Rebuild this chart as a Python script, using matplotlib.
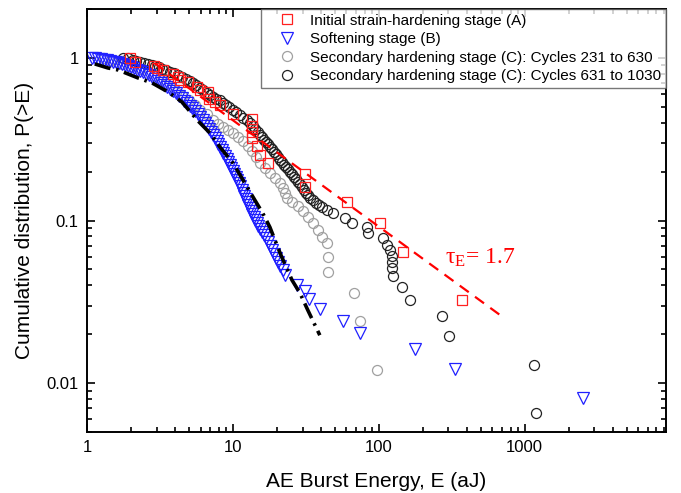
"""Cumulative distribution of AE burst energy for the three loading stages."""

import matplotlib

matplotlib.use("Agg")

import matplotlib.pyplot as plt
from matplotlib.ticker import FixedLocator, FixedFormatter, LogLocator, NullFormatter

plt.rcParams["font.family"] = ["Liberation Sans", "DejaVu Sans"]
plt.rcParams["mathtext.fontset"] = "stix"

# Initial strain-hardening stage (A)
stage_a_energy = [1.97, 2.13, 2.88, 3.02, 3.32, 3.88, 4.20, 4.33, 4.92, 5.67, 5.94, 6.74,
                  6.85, 7.53, 8.15, 10.0, 13.5, 13.5, 13.5, 13.5, 14.6, 15.3, 17.4, 31.1,
                  31.1, 60.4, 101.6, 146, 370]
stage_a_prob = [1.0, 0.945, 0.893, 0.868, 0.844, 0.797, 0.764, 0.732, 0.711, 0.663, 0.636,
                0.618, 0.560, 0.536, 0.514, 0.452, 0.421, 0.382, 0.351, 0.322, 0.287, 0.253,
                0.226, 0.193, 0.161, 0.130, 0.0966, 0.064, 0.0324]

# Softening stage (B)
stage_b_energy = [1.082, 1.134, 1.190, 1.247, 1.307, 1.371, 1.437, 1.507, 1.580, 1.657,
                  1.737, 1.821, 1.909, 2.001, 2.098, 2.200, 2.307, 2.419, 2.536, 2.659,
                  2.788, 2.923, 3.064, 3.213, 3.369, 3.532, 3.703, 3.882, 4.070, 4.267,
                  4.474, 4.618, 4.842, 5.077, 5.240, 5.493, 5.759, 5.943, 6.231, 6.431,
                  6.637, 6.850, 7.069, 7.295, 7.529, 7.770, 7.894, 8.147, 8.408, 8.541,
                  8.814, 9.097, 9.243, 9.539, 9.690, 10.0, 10.16, 10.48, 10.65, 10.99,
                  11.17, 11.52, 11.71, 11.89, 12.27, 12.47, 12.67, 13.07, 13.28, 13.49,
                  13.93, 14.15, 14.60, 14.84, 15.31, 15.80, 16.31, 16.83, 17.37, 17.92,
                  18.50, 19.09, 19.70, 20.33, 20.98, 22.00, 22.71,
                  27.4, 31.1, 33.2, 39.4, 56.7, 74.1, 176, 332, 2497]
stage_b_prob = [1.0, 0.9929, 0.9859, 0.9790, 0.9721, 0.9652, 0.9584, 0.9489, 0.9382, 0.9277,
                0.9120, 0.8992, 0.8865, 0.8740, 0.8617, 0.8436, 0.8318, 0.8143, 0.7972,
                0.7804, 0.7640, 0.7427, 0.7219, 0.7017, 0.6821, 0.6630, 0.6445, 0.6264,
                0.6046, 0.5836, 0.5632, 0.5437, 0.5248, 0.5065, 0.4889, 0.4719, 0.4520,
                0.4332, 0.4152, 0.3981, 0.3815, 0.3656, 0.3504, 0.3358, 0.3218, 0.3084,
                0.2956, 0.2833, 0.2715, 0.2602, 0.2493, 0.2390, 0.2291, 0.2195, 0.2104,
                0.2016, 0.1932, 0.1852, 0.1775, 0.1701, 0.1630, 0.1540, 0.1476, 0.1415,
                0.1356, 0.1299, 0.1245, 0.1193, 0.1144, 0.1096, 0.1051, 0.1007, 0.0965,
                0.0925, 0.0886, 0.0849, 0.0814, 0.0780, 0.0737, 0.0697, 0.0658, 0.0622,
                0.0588, 0.0555, 0.0525, 0.0496, 0.0462,
                0.0401, 0.0368, 0.0329, 0.0285, 0.0241, 0.0203, 0.0162, 0.0122, 0.0081]

# Secondary hardening stage (C): cycles 231 to 630
stage_c1_energy = [1.3, 1.45, 1.6, 1.75, 2.0, 2.3, 2.6, 2.9, 3.2, 3.5, 3.8, 4.1, 4.5, 5.0,
                   5.5, 5.94, 6.64, 7.29, 7.9, 8.5, 9.2, 10.0, 10.8, 11.7, 12.7, 13.5, 14.4,
                   15.3, 16.6, 17.9, 19.4, 21.0, 22.0, 22.7, 23.4, 25.4, 27.9, 30.1, 32.5,
                   35.2, 38.2, 40.7, 44.0, 44.6, 44.6, 68.0, 74.2, 96.7]
stage_c1_prob = [1.0, 0.976, 0.95, 0.92, 0.89, 0.85, 0.81, 0.77, 0.73, 0.69, 0.655, 0.62,
                 0.585, 0.55, 0.515, 0.479, 0.452, 0.415, 0.393, 0.376, 0.36, 0.345, 0.327,
                 0.309, 0.287, 0.268, 0.246, 0.226, 0.21, 0.196, 0.183, 0.170, 0.158, 0.148,
                 0.138, 0.130, 0.123, 0.114, 0.105, 0.0966, 0.0875, 0.0791, 0.0727, 0.0596,
                 0.0482, 0.0358, 0.0241, 0.0120]

# Secondary hardening stage (C): cycles 631 to 1030
stage_c2_energy = [1.77, 1.91, 2.07, 2.18, 2.31, 2.46, 2.62, 2.77, 2.92, 3.09, 3.26, 3.48,
                   3.70, 3.94, 4.20, 4.47, 4.76, 5.04, 5.32, 5.62, 5.94, 6.28, 6.64, 6.96,
                   7.29, 7.71, 8.15, 8.54, 8.95, 9.46, 10.0, 10.57, 11.2, 11.8, 12.5, 13.07,
                   13.7, 14.26, 14.8, 15.31, 15.8, 16.31, 16.8, 17.37, 17.9, 18.5, 19.1,
                   19.7, 20.3, 20.98, 21.7, 22.35, 23.1, 23.8, 24.6, 25.35, 26.2, 27.01,
                   27.9, 28.77, 29.7, 30.64, 31.6, 32.64, 33.7, 35.31, 37.0, 38.82, 40.7,
                   44.05, 48.4, 58.5, 65.3, 82.8, 84.1, 106, 113, 119, 123, 123, 123, 125,
                   144, 163, 270, 301, 1153, 1189]
stage_c2_prob = [1.0, 0.993, 0.972, 0.958, 0.945, 0.932, 0.919, 0.906, 0.893, 0.874, 0.856,
                 0.838, 0.820, 0.803, 0.786, 0.764, 0.743, 0.722, 0.702, 0.677, 0.653, 0.631,
                 0.609, 0.592, 0.575, 0.563, 0.552, 0.532, 0.514, 0.496, 0.479, 0.462, 0.446,
                 0.430, 0.415, 0.398, 0.382, 0.366, 0.351, 0.338, 0.327, 0.315, 0.304, 0.294,
                 0.283, 0.274, 0.264, 0.255, 0.246, 0.237, 0.229, 0.221, 0.213, 0.206, 0.199,
                 0.192, 0.185, 0.179, 0.173, 0.167, 0.161, 0.154, 0.148, 0.143, 0.138, 0.133,
                 0.128, 0.125, 0.121, 0.116, 0.111, 0.104, 0.0966, 0.0912, 0.0838, 0.078,
                 0.0707, 0.0658, 0.0605, 0.0556, 0.0510, 0.0455, 0.039, 0.0324, 0.0258,
                 0.0195, 0.0129, 0.00654]

# power-law guide (tau_E = 1.7), end points
guide_energy = [2.9, 707]
guide_prob = [0.93, 0.0255]

# fit curve through the softening stage
fit_energy = [1.13, 1.39, 1.63, 2.24, 2.79, 3.59, 4.47, 5.76, 6.96, 8.15, 10.0, 11.7, 13.7,
              16.0, 17.9, 21.3, 25.4, 28.8, 32.6, 39.4]
fit_prob = [0.919, 0.868, 0.844, 0.753, 0.702, 0.618, 0.536, 0.410, 0.345, 0.283, 0.226,
            0.178, 0.140, 0.111, 0.0912, 0.0614, 0.043, 0.0358, 0.0281, 0.0197]

labels = [
    "Initial strain-hardening stage (A)",
    "Softening stage (B)",
    "Secondary hardening stage (C): Cycles 231 to 630",
    "Secondary hardening stage (C): Cycles 631 to 1030",
]

fig = plt.figure(figsize=(6.81, 4.93), dpi=100)
ax = fig.add_axes([0.1278, 0.1237, 0.8502, 0.858])

mk = dict(linestyle="none", markerfacecolor="none", markeredgewidth=0.9)
h_c1, = ax.plot(stage_c1_energy, stage_c1_prob, marker="o", ms=7.2,
                markeredgecolor="#a0a0a0", **mk)
h_c2, = ax.plot(stage_c2_energy, stage_c2_prob, marker="o", ms=7.2,
                markeredgecolor="#222222", **mk)
h_b, = ax.plot(stage_b_energy, stage_b_prob, marker="v", ms=8.4,
               markeredgecolor="#2020ff", **mk)
h_a, = ax.plot(stage_a_energy, stage_a_prob, marker="s", ms=7.2,
               markeredgecolor="#ff2020", **mk)

ax.plot(fit_energy, fit_prob, color="black", lw=2.6, linestyle=(0, (4.5, 1.6, 0.7, 1.6)))
ax.plot(guide_energy, guide_prob, color="red", lw=1.6, linestyle=(0, (5, 3.5)))

ax.text(283, 0.054, r"$\mathregular{\tau_E}$= 1.7", color="red", fontsize=17,
        family=["Liberation Serif", "DejaVu Serif"])

ax.set_xscale("log")
ax.set_yscale("log")
ax.set_xlim(1, 9300)
ax.set_ylim(0.005, 2)

ax.xaxis.set_major_locator(FixedLocator([1, 10, 100, 1000]))
ax.xaxis.set_major_formatter(FixedFormatter(["1", "10", "100", "1000"]))
ax.yaxis.set_major_locator(FixedLocator([0.01, 0.1, 1]))
ax.yaxis.set_major_formatter(FixedFormatter(["0.01", "0.1", "1"]))
for axis in (ax.xaxis, ax.yaxis):
    axis.set_minor_locator(LogLocator(base=10, subs=range(2, 10), numticks=20))
    axis.set_minor_formatter(NullFormatter())

ax.tick_params(which="both", direction="in", top=True, right=True, width=1.2,
               labelsize=12, pad=6)
ax.tick_params(which="major", length=6)
ax.tick_params(which="minor", length=3.5)
for spine in ax.spines.values():
    spine.set_linewidth(1.4)

ax.set_xlabel("AE Burst Energy, E (aJ)", fontsize=15, labelpad=12)
ax.set_ylabel("Cumulative distribution, P(>E)", fontsize=15, labelpad=9)

leg = ax.legend([h_a, h_b, h_c1, h_c2], labels, loc="upper right", fontsize=11,
                borderaxespad=0, frameon=True, fancybox=False, borderpad=0.3,
                handlelength=2.8, handletextpad=0.1, labelspacing=0.3)
leg.get_frame().set_edgecolor("#555555")
leg.get_frame().set_linewidth(1.0)

fig.savefig("out.png", dpi=100)
